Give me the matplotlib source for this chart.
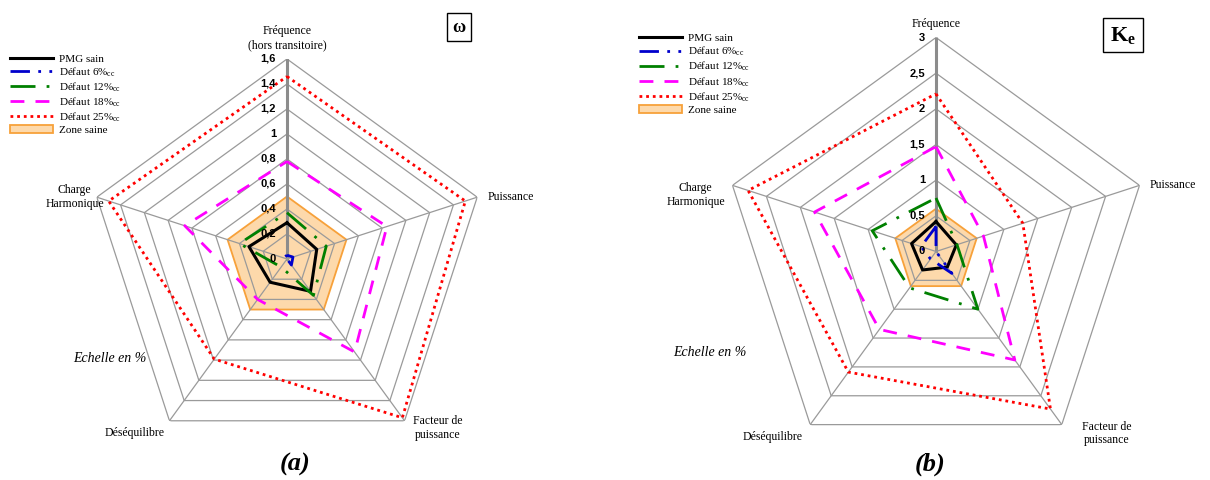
import numpy as np
import matplotlib
matplotlib.use("Agg")
import matplotlib.pyplot as plt

plt.rcParams['font.family'] = ['Liberation Serif', 'DejaVu Serif']
plt.rcParams['mathtext.fontset'] = 'custom'
plt.rcParams['mathtext.rm'] = 'Liberation Serif'
plt.rcParams['mathtext.it'] = 'Liberation Serif:italic'
plt.rcParams['mathtext.bf'] = 'Liberation Serif:bold'

# ---------------- data ----------------
categories_a = ["Fréquence\n(hors transitoire)", "Puissance", "Facteur de\npuissance",
                "Déséquilibre", "Charge\nHarmonique"]
categories_b = ["Fréquence", "Puissance", "Facteur de\npuissance",
                "Déséquilibre", "Charge\nHarmonique"]

series_labels = ["PMG sain", "Défaut 6%$_\\mathrm{cc}$", "Défaut 12%$_\\mathrm{cc}$",
                 "Défaut 18%$_\\mathrm{cc}$", "Défaut 25%$_\\mathrm{cc}$"]
zone_label = "Zone saine"

# (a) omega
pmg_a = [0.29, 0.25, 0.32, 0.23, 0.32]
d6_a = [0.03, 0.05, 0.06, 0.00, 0.03]
d12_a = [0.37, 0.33, 0.36, 0.08, 0.40]
d18_a = [0.78, 0.84, 0.92, 0.40, 0.86]
d25_a = [1.46, 1.50, 1.57, 0.99, 1.50]
zone_a = [0.5, 0.5, 0.5, 0.5, 0.5]
ticks_a = [0, 0.2, 0.4, 0.6, 0.8, 1.0, 1.2, 1.4, 1.6]
ticklabels_a = ["0", "0,2", "0,4", "0,6", "0,8", "1", "1,2", "1,4", "1,6"]

# (b) Ke
pmg_b = [0.42, 0.30, 0.27, 0.32, 0.36]
d6_b = [0.35, 0.00, 0.38, 0.13, 0.22]
d12_b = [0.75, 0.31, 1.00, 0.63, 0.94]
d18_b = [1.47, 0.70, 1.88, 1.35, 1.79]
d25_b = [2.21, 1.28, 2.73, 2.09, 2.77]
zone_b = [0.6, 0.6, 0.6, 0.6, 0.6]
ticks_b = [0, 0.5, 1.0, 1.5, 2.0, 2.5, 3.0]
ticklabels_b = ["0", "0,5", "1", "1,5", "2", "2,5", "3"]

# ---------------- styles ----------------
styles = [
    dict(color='black', lw=2.2, ls='-'),
    dict(color='#0000CC', lw=2.0, ls=(0, (7, 3, 1, 3, 1, 3))),
    dict(color='#008000', lw=2.0, ls=(0, (9, 4, 1, 4))),
    dict(color='#FF00FF', lw=2.0, ls=(0, (5, 4))),
    dict(color='#FF0000', lw=2.0, ls=(0, (1, 1.4))),
]
zone_fc = '#FDD9AB'
zone_ec = '#F7A13A'
grid_c = '#9A9A9A'

fig = plt.figure(figsize=(12.1, 4.8), dpi=100)

angles = np.arange(5) * 2 * np.pi / 5
ang_closed = np.append(angles, angles[0])


def close(v):
    return np.append(v, v[0])


def radar(rect, cats, series, zone, ticks, ticklabels, label_offsets, legend_pos):
    ax = fig.add_axes(rect, projection='polar')
    ax.set_theta_zero_location('N')
    ax.set_theta_direction(-1)
    rmax = ticks[-1]
    ax.set_ylim(0, rmax)
    ax.set_xticks([])
    ax.set_yticks([])
    ax.grid(False)
    ax.spines['polar'].set_visible(False)
    ax.patch.set_visible(False)

    zpoly = ax.fill(ang_closed, close(zone), facecolor=zone_fc, edgecolor=zone_ec,
                    lw=1.3, zorder=1, label=zone_label)[0]
    # pentagon rings
    for t in ticks[1:]:
        ax.plot(ang_closed, [t] * 6, color=grid_c, lw=0.9, zorder=2)
    # spokes
    for i, a in enumerate(angles):
        ax.plot([a, a], [0, rmax], color=grid_c if i else '#8C8C8C',
                lw=0.9 if i else 2.2, zorder=2)
    lines = []
    for vals, st, lab in zip(series, styles, series_labels):
        ln, = ax.plot(ang_closed, close(vals), color=st['color'], lw=st['lw'],
                      linestyle=st['ls'], zorder=4, label=lab)
        lines.append(ln)
    # tick labels
    for t, tl in zip(ticks, ticklabels):
        ax.annotate(tl, xy=(0, t), xytext=(-11, 0), textcoords='offset pixels',
                    ha='right', va='center', fontsize=8, fontweight='bold',
                    family='Liberation Sans', zorder=5)
    # category labels
    for a, c, (dx, dy, ha, va) in zip(angles, cats, label_offsets):
        ax.annotate(c, xy=(a, rmax), xytext=(dx, dy), textcoords='offset pixels',
                    ha=ha, va=va, fontsize=8.5, multialignment='center')
    fig.legend(handles=lines + [zpoly], loc='upper left', bbox_to_anchor=legend_pos,
               frameon=False, fontsize=8, handlelength=3.9, handletextpad=0.55,
               labelspacing=0.14, borderpad=0, borderaxespad=0)
    return ax


radar([0.0719, 0.0438, 0.3306, 0.8333], categories_a,
      [pmg_a, d6_a, d12_a, d18_a, d25_a], zone_a, ticks_a, ticklabels_a,
      [(0, 8, 'center', 'bottom'), (10, 0, 'left', 'center'), (33, 6, 'center', 'top'),
       (-5, -12, 'right', 'center'), (-22, 0, 'center', 'center')],
      (0.008, 0.888))

radar([0.5967, 0.0302, 0.3537, 0.8917], categories_b,
      [pmg_b, d6_b, d12_b, d18_b, d25_b], zone_b, ticks_b, ticklabels_b,
      [(0, 8, 'center', 'bottom'), (10, 0, 'left', 'center'), (45, 4, 'center', 'top'),
       (-8, -12, 'right', 'center'), (-37, -10, 'center', 'center')],
      (0.528, 0.93))

# titles / annotations
fig.text(295 / 1210, 1 - 464 / 480, "(a)", ha='center', va='center', fontsize=19,
         fontweight='bold', style='italic')
fig.text(930 / 1210, 1 - 464 / 480, "(b)", ha='center', va='center', fontsize=19,
         fontweight='bold', style='italic')
fig.text(110 / 1210, 1 - 358 / 480, "Echelle en %", ha='center', va='center', fontsize=10,
         style='italic')
fig.text(710 / 1210, 1 - 352 / 480, "Echelle en %", ha='center', va='center', fontsize=10,
         style='italic')
fig.text(459 / 1210, 1 - 27 / 480, "ω", ha='center', va='center', fontsize=13,
         fontweight='bold', family=['Liberation Serif', 'DejaVu Serif'],
         bbox=dict(boxstyle='square,pad=0.3', fc='white', ec='black', lw=1))
fig.text(1123 / 1210, 1 - 35 / 480, "K$_\\mathbf{e}$", ha='center', va='center', fontsize=16,
         fontweight='bold',
         bbox=dict(boxstyle='square,pad=0.3', fc='white', ec='black', lw=1))

fig.savefig("out.png", dpi=100)
